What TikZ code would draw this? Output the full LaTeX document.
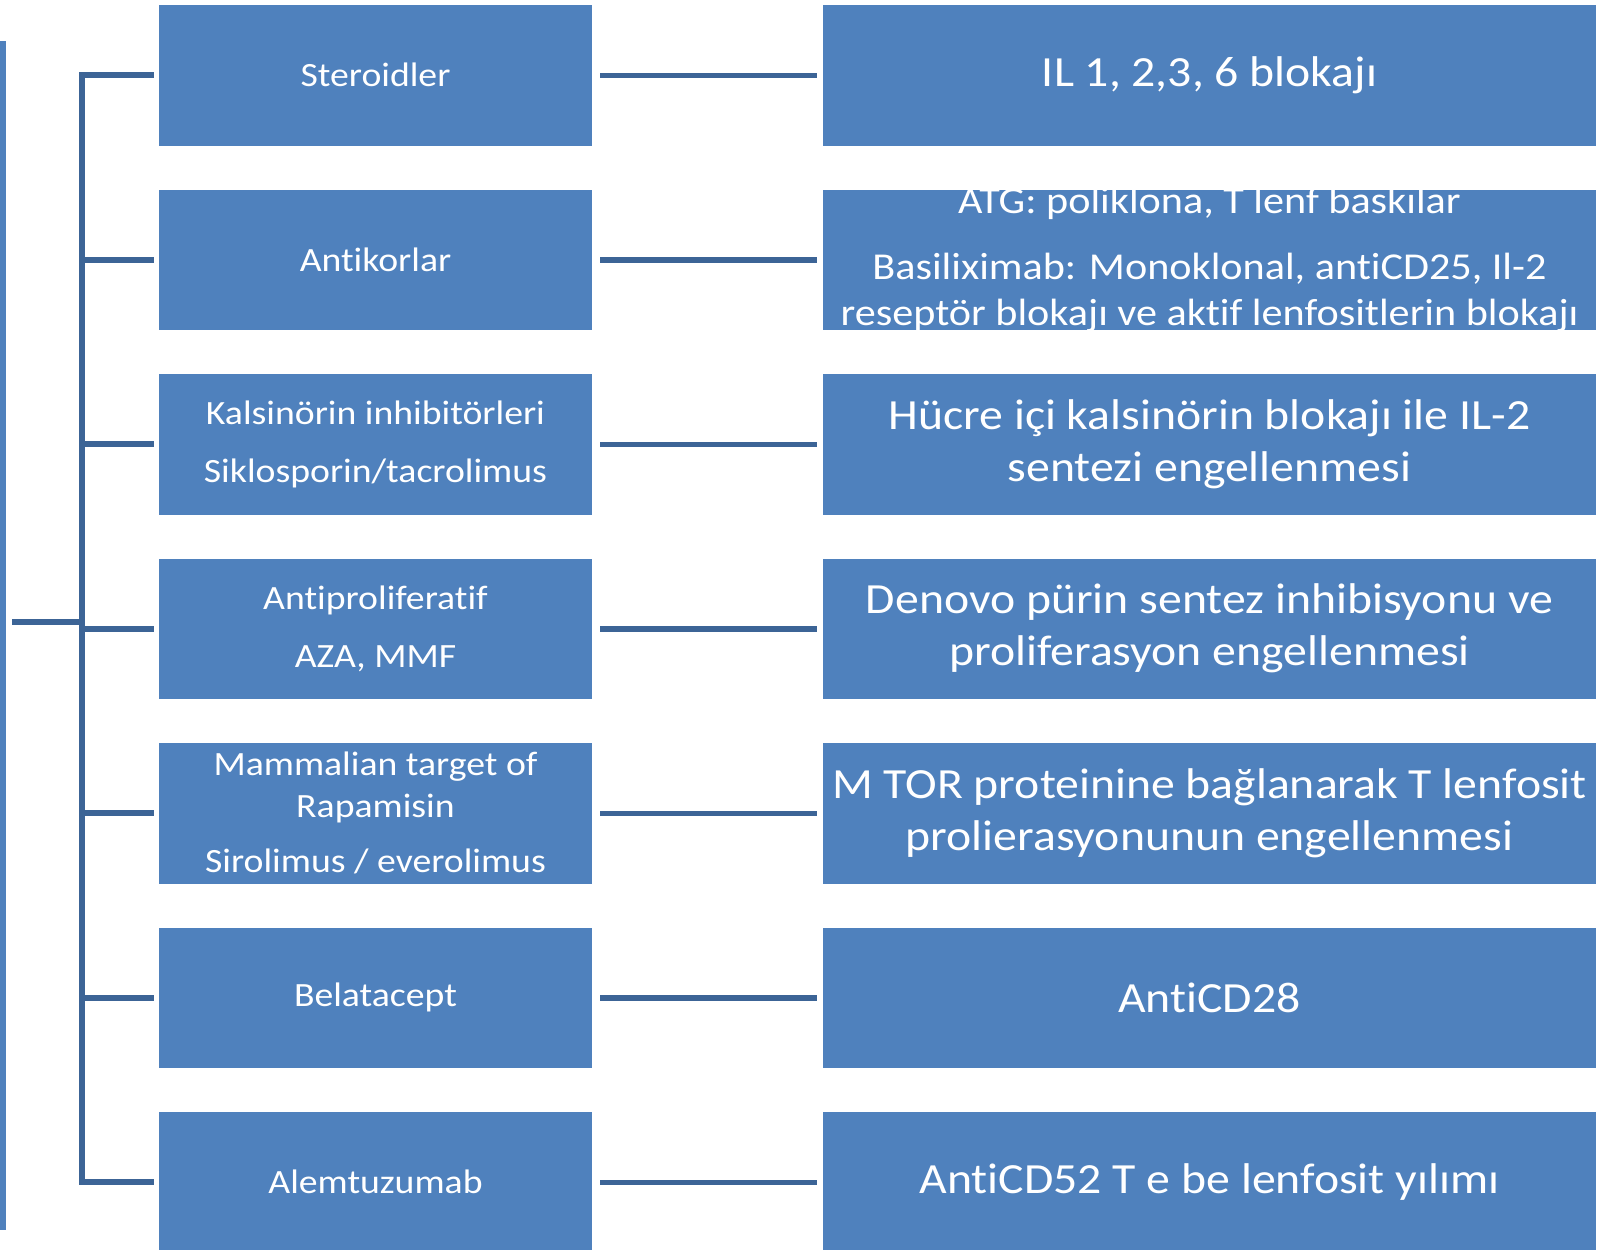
\documentclass[tikz,border=0pt]{standalone}
\usepackage{fontspec}
\setmainfont{Carlito}[FakeStretch=1.11,Ligatures=NoCommon]
\definecolor{boxblue}{RGB}{79,129,189}
\definecolor{linkblue}{RGB}{60,100,150}

\begin{document}
\begin{tikzpicture}[x=1pt,y=-1pt,
  drugbox/.style={fill=boxblue,text=white,minimum width=433pt,minimum height=140.5pt,
    inner sep=0pt,align=center,font=\fontsize{34}{42}\selectfont},
  effectbox/.style={drugbox,minimum width=773pt},
  effbig/.style={font=\fontsize{43}{52}\selectfont},
  effsmall/.style={font=\fontsize{38}{46}\selectfont,inner ysep=-12pt},
  tree/.style={draw=linkblue,line width=6pt,line join=miter},
  link/.style={draw=linkblue,line width=5.5pt,shorten <=8pt,shorten >=6pt}]
  \useasboundingbox (0,0) rectangle (1607,1250);
  % side bar
  \fill[boxblue] (0,41) rectangle (5.5,1230);
  % drug and effect rows
  \foreach \i/\drug/\effect/\es in {
    1/{Steroidler}/{IL 1, 2,3, 6 blokajı}/effbig,
    2/{Antikorlar}/{ATG: poliklona, T lenf baskılar\\[20pt]Basiliximab: Monoklonal, antiCD25, Il-2\\reseptör blokajı ve aktif lenfositlerin blokajı}/effsmall,
    3/{Kalsinörin inhibitörleri\\[16pt]Siklosporin/tacrolimus}/{Hücre içi kalsinörin blokajı ile IL-2\\sentezi engellenmesi}/effbig,
    4/{Antiproliferatif\\[16pt]AZA, MMF}/{Denovo pürin sentez inhibisyonu ve\\proliferasyon engellenmesi}/effbig,
    5/{Mammalian target of\\Rapamisin\\[13pt]Sirolimus / everolimus}/{M TOR proteinine bağlanarak T lenfosit\\prolierasyonunun engellenmesi}/effbig,
    6/{Belatacept}/{AntiCD28}/effbig,
    7/{Alemtuzumab}/{AntiCD52 T e be lenfosit yılımı}/effbig}{
    \node[drugbox] (d\i) at (375.5,{75.25+(\i-1)*184.5}) {\drug};
    \node[effectbox,\es] (e\i) at (1209.5,{75.25+(\i-1)*184.5}) {\effect};
    \draw[link] (d\i.east) -- (e\i.west);
  }
  % bracket
  \coordinate (trunk) at (82,0);
  \coordinate (root) at (12,622);
  \draw[tree] ([xshift=-5pt]d1.west) -- (d1.west -| trunk) -- (d7.west -| trunk) -- ([xshift=-5pt]d7.west);
  \foreach \i in {2,...,6}
    \draw[tree] (d\i.west -| trunk) -- ([xshift=-5pt]d\i.west);
  \draw[tree] (root) -- (root -| trunk);
\end{tikzpicture}
\end{document}
